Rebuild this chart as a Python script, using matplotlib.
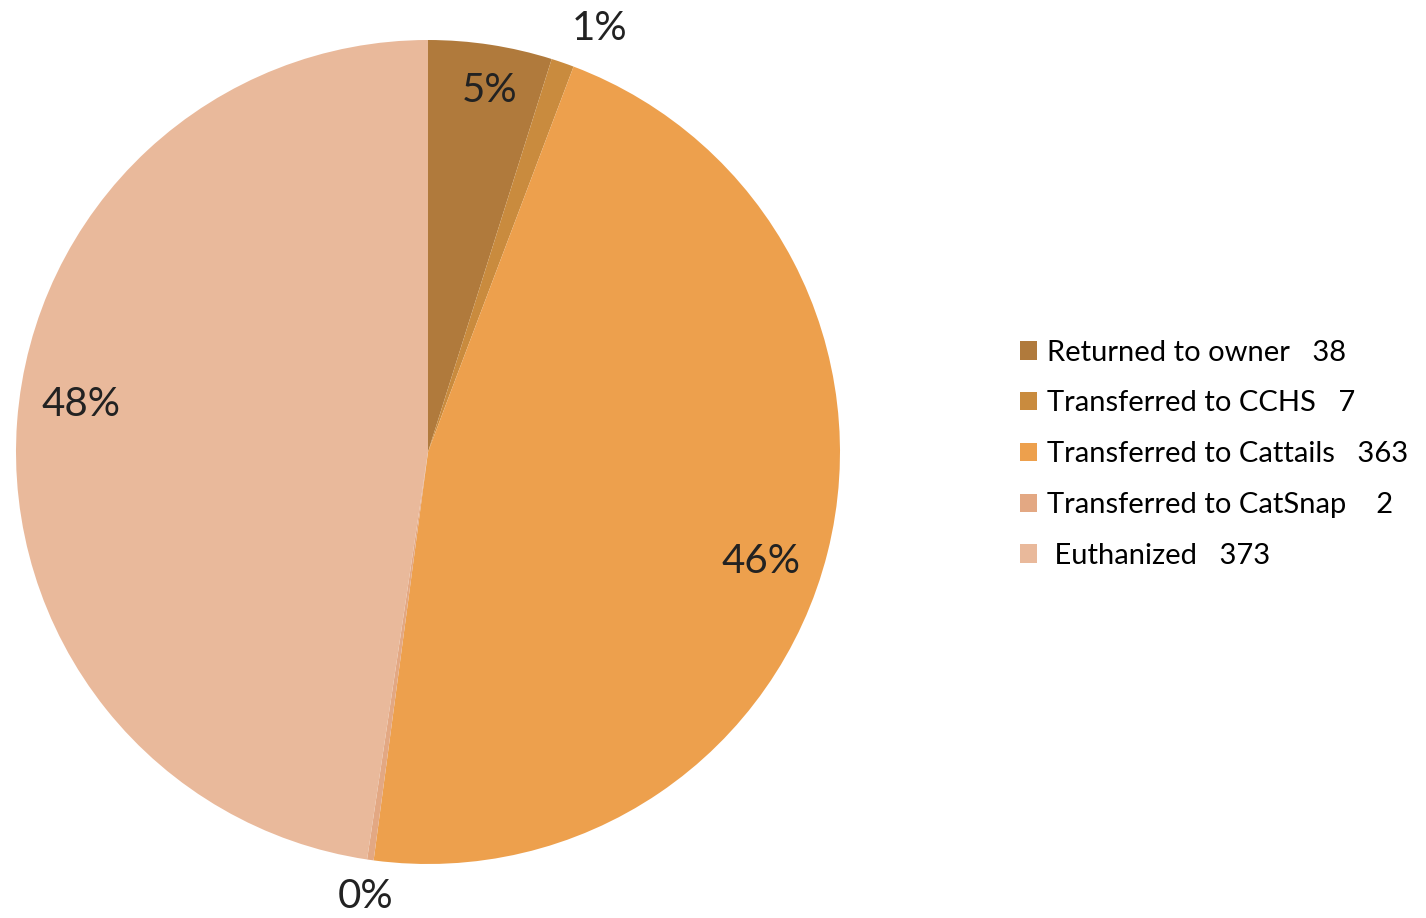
import matplotlib.pyplot as plt
import numpy as np

# datos del grafico
categorias = ["Returned to owner", "Transferred to CCHS", "Transferred to Cattails",
              "Transferred to CatSnap", "Euthanized"]
valores = [38, 7, 363, 2, 373]
etiquetas_leyenda = ["Returned to owner   38", "Transferred to CCHS   7",
                     "Transferred to Cattails   363", "Transferred to CatSnap    2",
                     " Euthanized   373"]
colores = ["#b07a3c", "#c98b3e", "#eda04d", "#e3a883", "#e9b99b"]
# distancia y giro (grados, sentido horario) de cada etiqueta de porcentaje
dist_etiquetas = [0.89, 1.11, 0.85, 1.09, 0.85]
giro_etiquetas = [1.0, 3.0, 4.0, 0.0, 3.5]

plt.rcParams['font.family'] = ['Lato', 'DejaVu Sans']

W, H = 1426, 918
fig = plt.figure(figsize=(W / 100, H / 100), dpi=100)
cx, cy, r = 428, 452, 412
ax = fig.add_axes([(cx - r) / W, (H - cy - r) / H, 2 * r / W, 2 * r / H])

wedges, _ = ax.pie(valores, colors=colores, startangle=90, counterclock=False,
                   radius=1.0, wedgeprops=dict(linewidth=0))
ax.set_xlim(-1, 1)
ax.set_ylim(-1, 1)
ax.set_aspect('equal')
ax.axis('off')

total = sum(valores)
for w, v, d, g in zip(wedges, valores, dist_etiquetas, giro_etiquetas):
    ang = np.deg2rad((w.theta1 + w.theta2) / 2 - g)
    x, y = d * np.cos(ang), d * np.sin(ang)
    ax.text(x, y, "%d%%" % round(100 * v / total), ha='center', va='center',
            fontsize=29, color='#222222')

fig.legend(wedges, etiquetas_leyenda, loc='upper left',
           bbox_to_anchor=(1008 / W, 1 - 328 / H), frameon=False,
           fontsize=21, handlelength=0.6, handleheight=0.6, handletextpad=0.35,
           labelspacing=0.85, borderaxespad=0)

fig.savefig("out.png", dpi=100, facecolor='white')
